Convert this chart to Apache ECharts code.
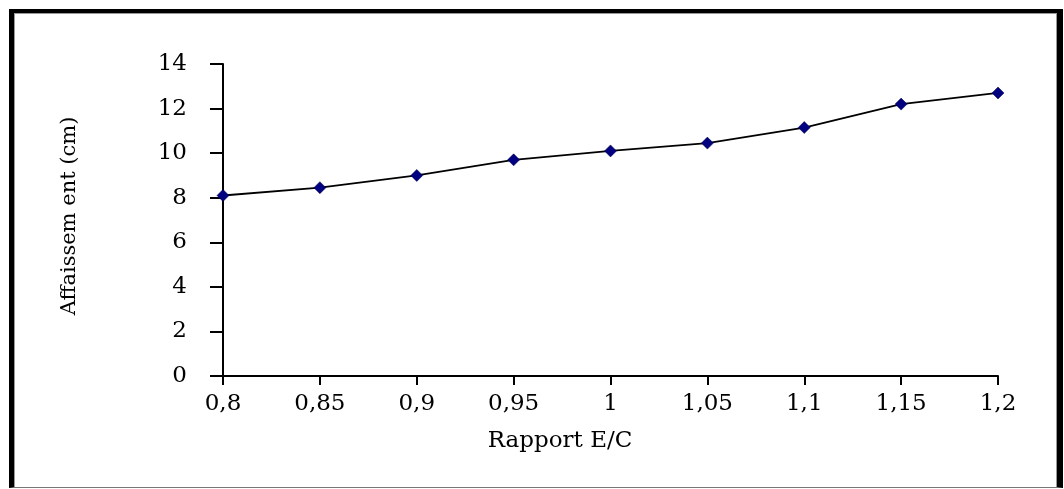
<!DOCTYPE html>
<html>
<head>
<meta charset="utf-8">
<script src="https://cdn.jsdelivr.net/npm/echarts@6/dist/echarts.min.js"></script>
<style>
  html, body { margin: 0; padding: 0; background: #fff; }
  #chart { position: absolute; left: 0; top: 0; width: 1064px; height: 489px; }
  #frame {
    position: absolute; left: 9px; top: 9px; width: 1043px; height: 474px;
    border-top: 4px solid #000; border-left: 5px solid #000;
    border-right: 6px solid #000; border-bottom: 1px solid #777;
    box-shadow: inset 1px 1px 0 #999, inset -1px 0 0 #999;
    pointer-events: none;
  }
</style>
</head>
<body>
<div id="chart"></div>
<div id="frame"></div>
<script>
const ratios = [0.8, 0.85, 0.9, 0.95, 1.0, 1.05, 1.1, 1.15, 1.2];
const slump = [8.1, 8.45, 9.0, 9.7, 10.1, 10.45, 11.15, 12.2, 12.7];
const xTitle = 'Rapport E/C';
const yTitle = 'Affaissem ent (cm)';

const FONT = '"DejaVu Serif", "Liberation Serif", serif';
const chart = echarts.init(document.getElementById('chart'), null, { renderer: 'canvas' });
const fmt = v => String(Math.round(v * 100) / 100).replace('.', ',');

chart.setOption({
  animation: false,
  backgroundColor: '#fff',
  grid: { left: 223, right: 66, top: 64, bottom: 113, containLabel: false },
  xAxis: {
    type: 'value', min: 0.8, max: 1.2, interval: 0.05,
    axisLine: { lineStyle: { color: '#000', width: 2 } },
    axisTick: { show: true, length: 9, lineStyle: { color: '#000', width: 2 } },
    axisLabel: { formatter: fmt, color: '#000', fontFamily: FONT, fontSize: 23, margin: 17 },
    splitLine: { show: false }
  },
  yAxis: {
    type: 'value', min: 0, max: 14, interval: 2,
    axisLine: { show: true, lineStyle: { color: '#000', width: 2 } },
    axisTick: { show: true, length: 13, lineStyle: { color: '#000', width: 2 } },
    axisLabel: { color: '#000', fontFamily: FONT, fontSize: 23, margin: 36 },
    splitLine: { show: false }
  },
  graphic: [
    { type: 'text', x: 560, y: 441,
      style: { text: xTitle, fill: '#000', font: '23px ' + FONT, align: 'center', verticalAlign: 'middle' } },
    { type: 'text', x: 70, y: 216, rotation: Math.PI / 2,
      style: { text: yTitle, fill: '#000', font: '21px ' + FONT, align: 'center', verticalAlign: 'middle' } }
  ],
  series: [{
    type: 'line',
    data: ratios.map((r, i) => [r, slump[i]]),
    symbol: 'diamond', symbolSize: 12,
    lineStyle: { color: '#000', width: 1.8 },
    itemStyle: { color: '#000080', borderColor: '#000040', borderWidth: 0.5 }
  }]
});
</script>
</body>
</html>
